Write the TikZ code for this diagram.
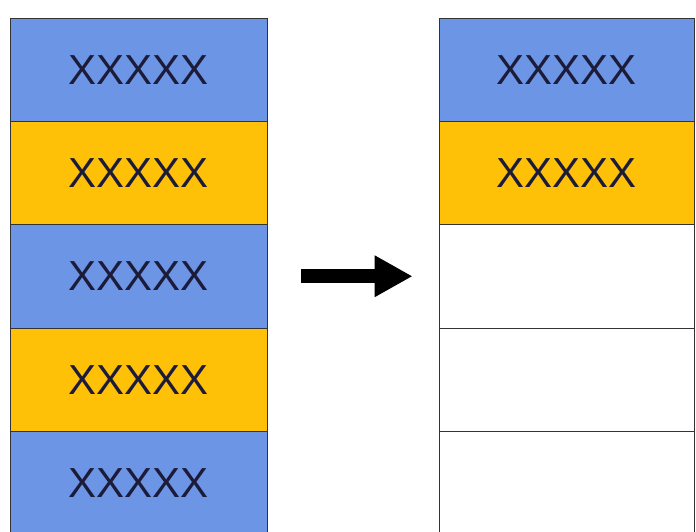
\documentclass[tikz,border=0pt]{standalone}
\usepackage{fontspec}
\setmainfont{Liberation Sans}
\usepackage{tikz}
\usetikzlibrary{positioning,arrows.meta}

\definecolor{cellblue}{HTML}{6D95E6}
\definecolor{cellgold}{HTML}{FFC107}
\definecolor{celltext}{HTML}{1C1C3A}

\begin{document}
\begin{tikzpicture}[node distance=103.3pt]
    \tikzstyle{cell} = [rectangle, draw=black!80, line width=0.8pt, minimum width=257pt, minimum height=103.3pt, inner sep=0pt, text=celltext, font=\fontsize{42}{42}\selectfont]
    \tikzstyle{bluecell} = [cell, fill=cellblue]
    \tikzstyle{goldcell} = [cell, fill=cellgold]
    \tikzstyle{emptycell} = [cell, fill=white, minimum width=255pt]
    \tikzstyle{arrow} = [line width=14pt, -{Triangle[length=38pt, width=39pt]}, shorten <=34pt, shorten >=26pt]

    \useasboundingbox (0,0) rectangle (696pt,-532pt);

    % left column
    \node[bluecell] (l1) at (138.5pt,-69.65pt) {XXXXX};
    \node[goldcell, below of=l1] (l2) {XXXXX};
    \node[bluecell, below of=l2] (l3) {XXXXX};
    \node[goldcell, below of=l3] (l4) {XXXXX};
    \node[bluecell, below of=l4] (l5) {XXXXX};

    % right column
    \node[bluecell, minimum width=255pt] (r1) at (566.5pt,-69.65pt) {XXXXX};
    \node[goldcell, minimum width=255pt, below of=r1] (r2) {XXXXX};
    \node[emptycell, below of=r2] (r3) {};
    \node[emptycell, below of=r3] (r4) {};
    \node[emptycell, below of=r4] (r5) {};

    \draw[arrow] (l3) -- (r3);
\end{tikzpicture}
\end{document}
